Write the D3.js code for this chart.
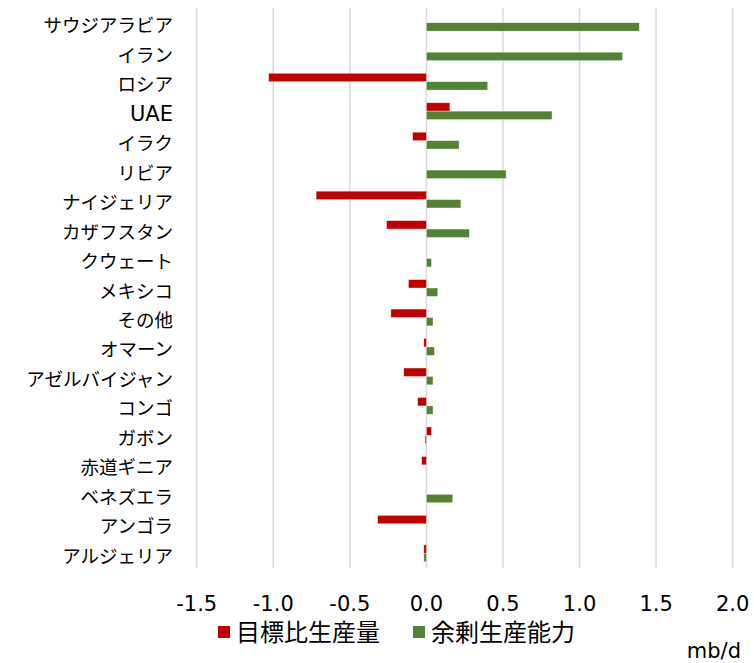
<!DOCTYPE html>
<html><head><meta charset="utf-8">
<script src="https://cdn.jsdelivr.net/npm/d3@7/dist/d3.min.js"></script>
<style>
body{margin:0;background:#fff;}
text{font-family:"DejaVu Sans","Noto Sans CJK JP",sans-serif;fill:#000;}
</style></head><body>
<svg id="c" width="754" height="663"></svg>
<script>
const categories = ["サウジアラビア","イラン","ロシア","UAE","イラク","リビア","ナイジェリア","カザフスタン","クウェート","メキシコ","その他","オマーン","アゼルバイジャン","コンゴ","ガボン","赤道ギニア","ベネズエラ","アンゴラ","アルジェリア"];
const targetVsProduction = [0, 0, -1.03, 0.153, -0.09, 0, -0.72, -0.26, 0, -0.117, -0.232, -0.017, -0.148, -0.057, 0.033, -0.031, 0, -0.318, -0.017];
const spareCapacity = [1.39, 1.28, 0.40, 0.82, 0.213, 0.52, 0.225, 0.28, 0.033, 0.074, 0.043, 0.052, 0.043, 0.043, -0.01, 0, 0.172, 0, -0.017];
const xTicks = [-1.5, -1.0, -0.5, 0.0, 0.5, 1.0, 1.5, 2.0];
const seriesNames = ["目標比生産量", "余剰生産能力"];
const seriesColors = ["#c00000", "#548235"];
const unitLabel = "mb/d";

const svg = d3.select("#c");
const x = d3.scaleLinear().domain([-1.5, 2.0]).range([196.7, 732.7]);
const y = d3.scaleBand().domain(categories).range([8, 568]).paddingInner(0.43).paddingOuter(0.215);
const sub = d3.scaleBand().domain([0,1]).range([0, y.bandwidth()]);

// gridlines
svg.append("g").selectAll("line").data(xTicks).join("line")
  .attr("x1", d => x(d)).attr("x2", d => x(d))
  .attr("y1", 8).attr("y2", 568)
  .attr("stroke", "#d9d9d9").attr("stroke-width", 1.5);

// bars
const series = [targetVsProduction, spareCapacity];
series.forEach((vals, si) => {
  svg.append("g").selectAll("rect").data(vals.map((v, i) => ({v, c: categories[i]}))).join("rect")
    .attr("x", d => Math.min(x(0), x(d.v)))
    .attr("width", d => Math.abs(x(d.v) - x(0)))
    .attr("y", d => y(d.c) + sub(si))
    .attr("height", sub.bandwidth())
    .attr("fill", seriesColors[si])
    .attr("stroke", "#fff").attr("stroke-width", 0.6).attr("stroke-opacity", 0.6);
});

// category axis labels
svg.append("g").selectAll("text").data(categories).join("text")
  .attr("x", 173)
  .attr("y", d => y(d) + y.bandwidth() / 2 + 3)
  .attr("text-anchor", "end")
  .attr("dominant-baseline", "central")
  .attr("font-size", d => /^[A-Za-z]+$/.test(d) ? 21 : 18.5)
  .text(d => d);

// x tick labels
svg.append("g").selectAll("text").data(xTicks).join("text")
  .attr("x", d => x(d))
  .attr("y", 604)
  .attr("text-anchor", "middle")
  .attr("dominant-baseline", "central")
  .attr("font-size", 21)
  .text(d => d3.format(".1f")(d).replace("−", "-"));

// legend
const legendX = [218, 413];
seriesNames.forEach((n, i) => {
  svg.append("rect").attr("x", legendX[i]).attr("y", 626).attr("width", 12).attr("height", 12).attr("fill", seriesColors[i]);
  svg.append("text").attr("x", legendX[i] + 18).attr("y", 633)
    .attr("dominant-baseline", "central").attr("font-size", 24).text(n);
});

svg.append("text").attr("x", 741).attr("y", 651).attr("text-anchor", "end")
  .attr("dominant-baseline", "central").attr("font-size", 21).text(unitLabel);
</script>
</body></html>
